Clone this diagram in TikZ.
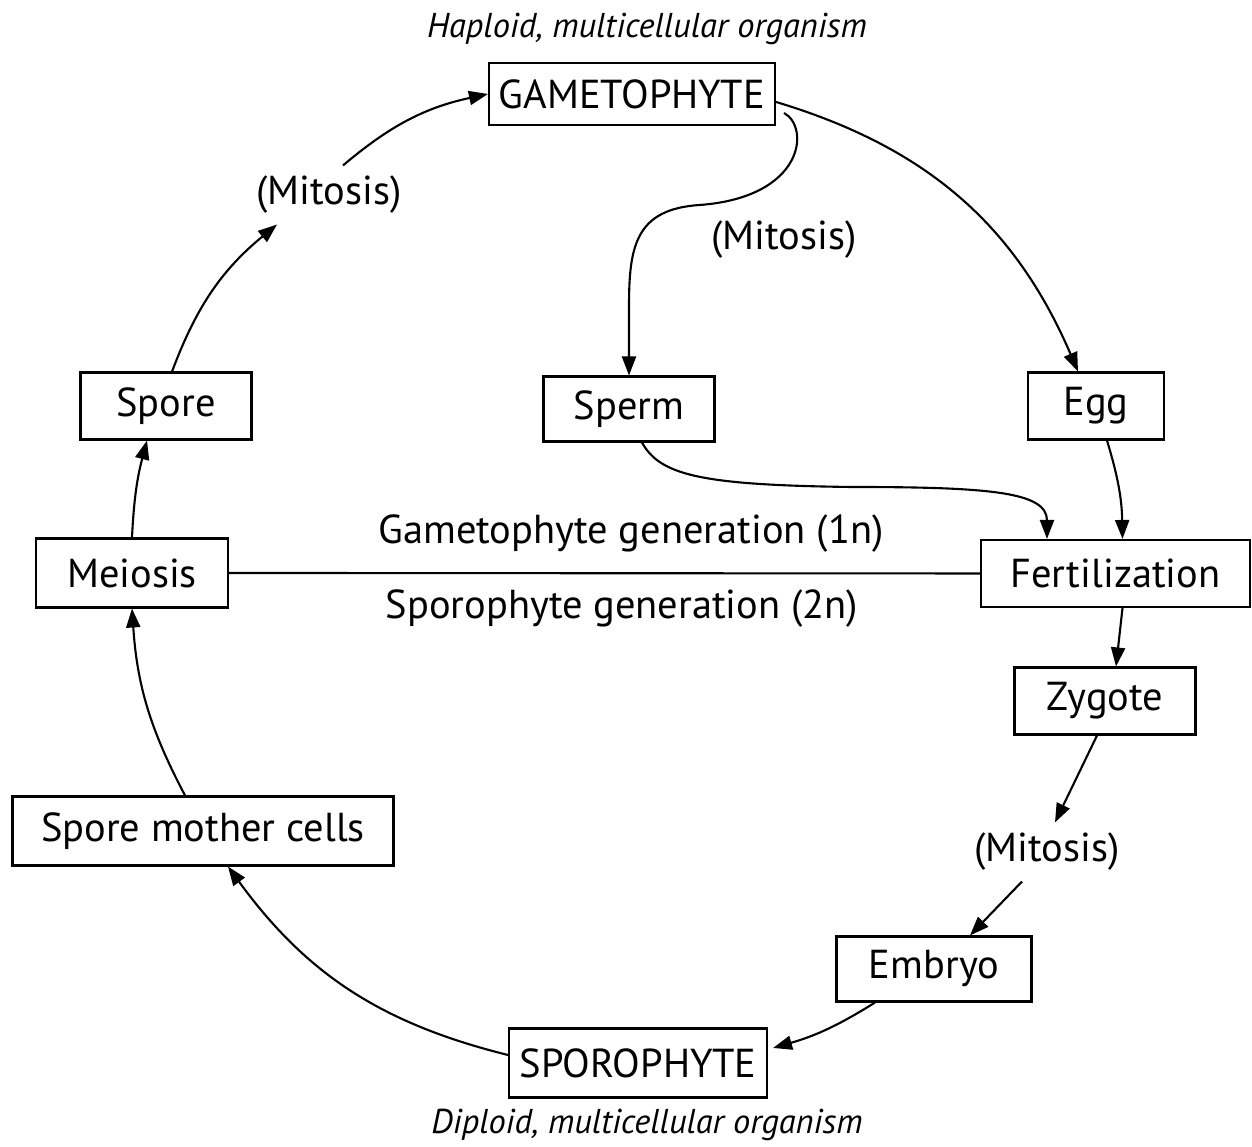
\documentclass[tikz,border=0pt]{standalone}
\usepackage{fontspec}
\setmainfont{PT Sans}
\usetikzlibrary{arrows.meta}

\begin{document}
\begin{tikzpicture}[
  box/.style={rectangle, draw, line width=0.6pt, inner sep=0pt, font=\fontsize{11.5}{13}\selectfont},
  lbl/.style={inner sep=0.1cm, font=\fontsize{11.5}{13}\selectfont},
  note/.style={inner sep=0pt, font=\fontsize{9.8}{11}\selectfont\itshape},
  arrow/.style={-{Triangle[length=5.4pt,width=4pt]}, line width=0.6pt}
]
\useasboundingbox (0,0) rectangle (12.52,11.47);

% haploid half
\node[note] (hap) at (6.47,11.18) {Haploid, multicellular organism};
\node[box, minimum width=2.86cm, minimum height=0.62cm] (gam) at (6.32,10.53) {GAMETOPHYTE};
\node[lbl] (mitl) at (3.29,9.52) {(Mitosis)};
\node[lbl] (mitm) at (7.84,9.07) {(Mitosis)};
\node[box, minimum width=1.71cm, minimum height=0.67cm] (spore) at (1.66,7.41) {Spore};
\node[box, minimum width=1.71cm, minimum height=0.65cm] (sperm) at (6.29,7.38) {Sperm};
\node[box, minimum width=1.36cm, minimum height=0.67cm] (egg) at (10.96,7.41) {Egg};

% generation boundary
\node[box, minimum width=1.92cm, minimum height=0.69cm] (mei) at (1.32,5.74) {Meiosis};
\node[box, minimum width=2.69cm, minimum height=0.67cm] (fert) at (11.155,5.735) {Fertilization};
\node[lbl] (gamgen) at (6.31,6.13) {Gametophyte generation (1n)};
\node[lbl] (spogen) at (6.22,5.38) {Sporophyte generation (2n)};

% diploid half
\node[box, minimum width=1.81cm, minimum height=0.67cm] (zyg) at (11.05,4.46) {Zygote};
\node[box, minimum width=3.81cm, minimum height=0.69cm] (smc) at (2.03,3.16) {Spore mother cells};
\node[lbl] (mitr) at (10.47,2.95) {(Mitosis)};
\node[box, minimum width=1.95cm, minimum height=0.65cm] (emb) at (9.34,1.78) {Embryo};
\node[box, minimum width=2.58cm, minimum height=0.69cm] (spo) at (6.38,0.84) {SPOROPHYTE};
\node[note] (dip) at (6.47,0.22) {Diploid, multicellular organism};

\draw[line width=0.6pt] (mei.east) -- (fert.west);

\draw[arrow] (spore.80) to[bend left=15] ([xshift=-0.52cm]mitl.south);
\draw[arrow] ([xshift=0.14cm]mitl.north) to[bend left=14] (gam.west);
\draw[arrow] ([yshift=-0.08cm]gam.east) to[bend left=25] ([xshift=-0.18cm]egg.north);
\draw[arrow] ([shift={(0.08,-0.19)}]gam.east) .. controls (8.10,10.20) and (8.05,9.50) .. (7.00,9.42)
  .. controls (6.35,9.38) and (6.29,9.00) .. (6.29,8.40) -- (sperm.north);
\draw[arrow] ([xshift=0.13cm]sperm.south) .. controls (6.60,6.72) and (7.00,6.62) .. (8.50,6.60)
  .. controls (9.90,6.60) and (10.47,6.55) .. ([xshift=-0.685cm]fert.north);
\draw[arrow] ([xshift=0.11cm]egg.south) to[bend left=8] ([xshift=0.07cm]fert.north);
\draw[arrow] ([xshift=0.07cm]fert.south) -- ([xshift=0.11cm]zyg.north);
\draw[arrow] ([xshift=-0.08cm]zyg.south) -- ([xshift=0.08cm]mitr.north);
\draw[arrow] ([xshift=-0.25cm]mitr.south) -- ([xshift=0.36cm]emb.north);
\draw[arrow] ([xshift=-0.59cm]emb.south) to[bend left=8] ([shift={(0.05,0.15)}]spo.east);
\draw[arrow] ([yshift=0.08cm]spo.west) to[bend left=20] ([xshift=0.25cm]smc.south);
\draw[arrow] ([xshift=-0.18cm]smc.north) to[bend left=12] (mei.south);
\draw[arrow] (mei.north) to[bend left=6] ([xshift=-0.19cm]spore.south);
\end{tikzpicture}
\end{document}
